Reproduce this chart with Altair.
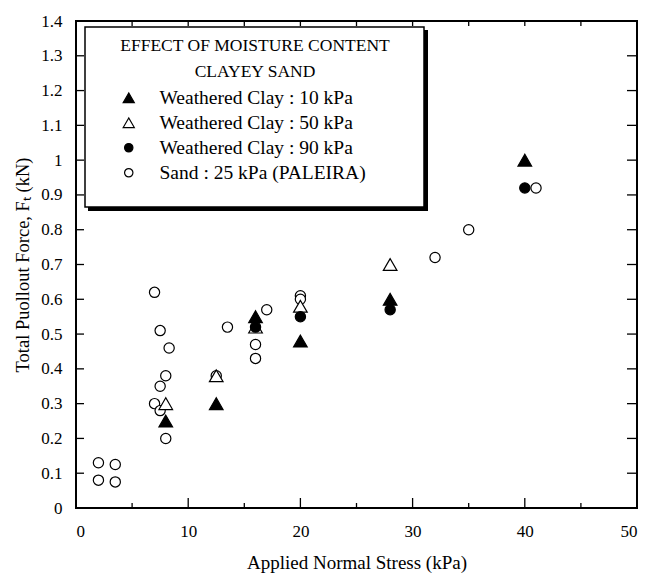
import altair as alt
import pandas as pd

FONT = "Liberation Serif"

x_title = "Applied Normal Stress (kPa)"
y_title = "Total Puollout Force, Fₜ (kN)"
legend_title = ["EFFECT OF MOISTURE CONTENT", "CLAYEY SAND"]

series_names = [
    "Weathered Clay : 10 kPa",
    "Weathered Clay : 50 kPa",
    "Weathered Clay : 90 kPa",
    "Sand : 25 kPa (PALEIRA)",
]

wc10_x = [8, 12.5, 16, 20, 28, 40]
wc10_y = [0.25, 0.30, 0.55, 0.48, 0.60, 1.00]

wc50_x = [8, 12.5, 16, 20, 28]
wc50_y = [0.30, 0.38, 0.52, 0.58, 0.70]

wc90_x = [16, 20, 28, 40]
wc90_y = [0.52, 0.55, 0.57, 0.92]

sand_x = [2, 2, 3.5, 3.5, 7, 7, 7.5, 7.5, 7.5, 8, 8, 8.3, 12.5, 13.5,
          16, 16, 17, 20, 20, 32, 35, 41]
sand_y = [0.13, 0.08, 0.125, 0.075, 0.62, 0.30, 0.51, 0.35, 0.28, 0.38,
          0.20, 0.46, 0.38, 0.52, 0.47, 0.43, 0.57, 0.61, 0.60, 0.72,
          0.80, 0.92]

x_major = [0, 10, 20, 30, 40, 50]
x_minor = [5, 15, 25, 35, 45]
y_major = [0, 0.1, 0.2, 0.3, 0.4, 0.5, 0.6, 0.7, 0.8, 0.9, 1.0, 1.1, 1.2, 1.3, 1.4]

W, H = 561, 487

rows = []
for xs, ys, name in [(sand_x, sand_y, series_names[3]),
                     (wc50_x, wc50_y, series_names[1]),
                     (wc90_x, wc90_y, series_names[2]),
                     (wc10_x, wc10_y, series_names[0])]:
    for a, b in zip(xs, ys):
        rows.append({"x": a, "y": b, "series": name})
df = pd.DataFrame(rows)

xscale = alt.Scale(domain=[0, 50], nice=False, zero=False)
yscale = alt.Scale(domain=[0, 1.4], nice=False, zero=False)

x_axis = alt.Axis(
    values=x_major, tickSize=0, domain=False, grid=False,
    labelFont=FONT, labelFontSize=17, labelColor="black", labelPadding=15,
    titleFont=FONT, titleFontSize=19, titleFontWeight="normal",
    titleColor="black", titlePadding=14,
)
y_axis = alt.Axis(
    values=y_major, format=".1~f", tickSize=0, domain=False, grid=False,
    labelFont=FONT, labelFontSize=17, labelColor="black", labelPadding=14,
    titleFont=FONT, titleFontSize=18.5, titleFontWeight="normal",
    titleColor="black", titlePadding=8,
)

X = lambda: alt.X("x:Q", scale=xscale, title=x_title, axis=x_axis)
Y = lambda: alt.Y("y:Q", scale=yscale, title=y_title, axis=y_axis)

legend = alt.Legend(
    title=None,
    orient="none",
    legendX=43, legendY=67,
    padding=0,
    labelLimit=500,
    labelFont=FONT, labelFontSize=19.5, labelColor="black",
    labelOffset=21, rowPadding=4,
    symbolSize=70, symbolStrokeColor="black", symbolStrokeWidth=1.2,
)

tri = "M0,-1.15L-1.33,1.15L1.33,1.15Z"

points = alt.Chart(df).mark_point(
    opacity=1, strokeWidth=1.2, size=105
).encode(
    x=X(), y=Y(),
    shape=alt.Shape("series:N", scale=alt.Scale(
        domain=series_names, range=[tri, tri, "circle", "circle"]), legend=legend),
    fill=alt.Fill("series:N", scale=alt.Scale(
        domain=series_names, range=["black", "white", "black", "white"]), legend=legend),
    stroke=alt.Stroke("series:N", scale=alt.Scale(
        domain=series_names, range=["black", "black", "black", "black"]), legend=legend),
)

box_df = pd.DataFrame({"k": [0]})
shadow_r = alt.Chart(box_df).mark_rect(color="black").encode(
    x=alt.value(348), x2=alt.value(352), y=alt.value(9), y2=alt.value(190))
shadow_b = alt.Chart(box_df).mark_rect(color="black").encode(
    x=alt.value(12), x2=alt.value(352), y=alt.value(186), y2=alt.value(190))
box = alt.Chart(box_df).mark_rect(fillOpacity=0, stroke="black", strokeWidth=1.5).encode(
    x=alt.value(9), x2=alt.value(348), y=alt.value(6), y2=alt.value(186))

# the legend's two-line heading, centred over the box
title_text = dict(font=FONT, fontSize=17.5, color="black", align="center", baseline="middle")
title1 = alt.Chart(pd.DataFrame({"t": [legend_title[0]]})).mark_text(**title_text).encode(
    text="t:N", x=alt.value(179), y=alt.value(25))
title2 = alt.Chart(pd.DataFrame({"t": [legend_title[1]]})).mark_text(**title_text).encode(
    text="t:N", x=alt.value(179), y=alt.value(51))

ydf = pd.DataFrame({"y": y_major})
xmaj = pd.DataFrame({"x": x_major})
xmin = pd.DataFrame({"x": x_minor})
xall = pd.DataFrame({"x": x_major + x_minor})

rule = dict(color="black", strokeWidth=1.3)
left_ticks = alt.Chart(ydf).mark_rule(**rule).encode(
    y=Y(), x=alt.value(0), x2=alt.value(8))
right_ticks = alt.Chart(ydf).mark_rule(**rule).encode(
    y=Y(), x=alt.value(W - 10), x2=alt.value(W))
bottom_major = alt.Chart(xmaj).mark_rule(**rule).encode(
    x=X(), y=alt.value(H), y2=alt.value(H - 10))
bottom_minor = alt.Chart(xmin).mark_rule(**rule).encode(
    x=X(), y=alt.value(H), y2=alt.value(H - 5))
top_ticks = alt.Chart(xall).mark_rule(**rule).encode(
    x=X(), y=alt.value(0), y2=alt.value(5))

chart = alt.layer(
    points,
    shadow_r, shadow_b, box, title1, title2,
    left_ticks, right_ticks, bottom_major, bottom_minor, top_ticks,
).properties(
    width=W, height=H,
    autosize=alt.AutoSizeParams(type="none"),
    padding={"left": 76, "top": 21, "right": 11, "bottom": 69},
    background="white",
).configure(
    font=FONT
).configure_view(
    stroke="black", strokeWidth=2
)

chart.save("out.html", embed_options={"renderer": "svg", "actions": False})
